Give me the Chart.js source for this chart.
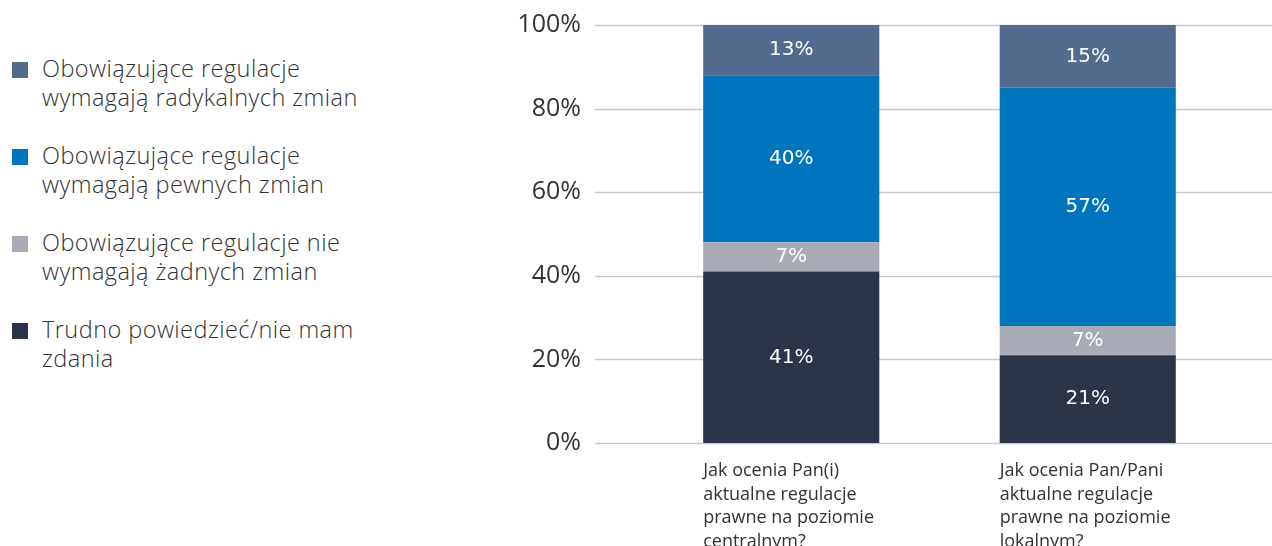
<!DOCTYPE html>
<html lang="pl">
<head>
<meta charset="utf-8">
<title>Ocena regulacji prawnych</title>
<script src="https://cdn.jsdelivr.net/npm/chart.js@4.4.1/dist/chart.umd.min.js"></script>
<style>
    html, body { margin: 0; padding: 0; background: #fff; }
    body { width: 1272px; height: 546px; position: relative; overflow: hidden; font-family: "Open Sans", sans-serif; }
    #legenda { position: absolute; left: 12px; top: 54px; width: 420px; }
    .pozycja { display: flex; align-items: flex-start; height: 87px; }
    .kwadrat { width: 16px; height: 16px; margin-top: 8px; margin-right: 14px; flex: none; }
    .opis { font-size: 23.5px; line-height: 29px; color: #333; font-weight: 300; letter-spacing: 0.45px; }
    #wykres { position: absolute; left: 500px; top: 0; width: 772px; height: 546px; }
</style>
</head>
<body>
<div id="legenda"></div>
<div id="wykres"><canvas id="chartRegulacje"></canvas></div>
<script>
// Pytania (kategorie na osi X)
const pytania = [
    ['Jak ocenia Pan(i)', 'aktualne regulacje', 'prawne na poziomie', 'centralnym?'],
    ['Jak ocenia Pan/Pani', 'aktualne regulacje', 'prawne na poziomie', 'lokalnym?']
];

// Odpowiedzi (kolejność od dołu słupka)
const odpowiedzi = [
    'Trudno powiedzieć/nie mam zdania',
    'Obowiązujące regulacje nie wymagają żadnych zmian',
    'Obowiązujące regulacje wymagają pewnych zmian',
    'Obowiązujące regulacje wymagają radykalnych zmian'
];

// Opisy w legendzie (z podziałem na linie)
const opisyLegendy = [
    ['Trudno powiedzieć/nie mam', 'zdania'],
    ['Obowiązujące regulacje nie', 'wymagają żadnych zmian'],
    ['Obowiązujące regulacje', 'wymagają pewnych zmian'],
    ['Obowiązujące regulacje', 'wymagają radykalnych zmian']
];

// Wartości procentowe
const trudnoPowiedziec = [41, 21];
const bezZmian = [7, 7];
const pewneZmiany = [40, 57];
const radykalneZmiany = [13, 15];

// Etykiety osi Y
const ticksY = [0, 20, 40, 60, 80, 100];

const kolory = ['#2c3447', '#a8abb6', '#0075be', '#526b8e'];

// Legenda w HTML (od góry: radykalne -> trudno powiedzieć)
function zbudujLegende() {
    const legenda = document.getElementById('legenda');
    for (let i = odpowiedzi.length - 1; i >= 0; i--) {
        const wiersz = document.createElement('div');
        wiersz.className = 'pozycja';
        const kw = document.createElement('span');
        kw.className = 'kwadrat';
        kw.style.background = kolory[i];
        const opis = document.createElement('span');
        opis.className = 'opis';
        opis.innerHTML = opisyLegendy[i].join('<br>');
        wiersz.appendChild(kw);
        wiersz.appendChild(opis);
        legenda.appendChild(wiersz);
    }
}

// Linie siatki szersze niż obszar słupków
const siatka = {
    id: 'siatka',
    beforeDatasetsDraw(chart) {
        const ctx = chart.ctx;
        const y = chart.scales.y;
        ctx.save();
        ctx.strokeStyle = '#c6c8d0';
        ctx.lineWidth = 1.5;
        ticksY.forEach(v => {
            const py = Math.round(y.getPixelForValue(v)) + 0.5;
            ctx.beginPath();
            ctx.moveTo(95, py);
            ctx.lineTo(chart.width, py);
            ctx.stroke();
        });
        ctx.restore();
    }
};

// Wartości wewnątrz słupków i opisy kategorii pod słupkami
const etykiety = {
    id: 'etykiety',
    afterDatasetsDraw(chart) {
        const ctx = chart.ctx;
        const area = chart.chartArea;
        ctx.save();
        ctx.font = '20px "DejaVu Sans", sans-serif';
        ctx.fillStyle = '#ffffff';
        ctx.textAlign = 'center';
        ctx.textBaseline = 'middle';
        chart.data.datasets.forEach((ds, i) => {
            chart.getDatasetMeta(i).data.forEach((bar, j) => {
                const top = Math.max(bar.y, area.top);
                const srodek = (top + bar.base) / 2;
                ctx.fillText(ds.data[j] + '%', bar.x, srodek);
            });
        });

        ctx.font = '18px "Open Sans", sans-serif';
        ctx.fillStyle = '#333333';
        ctx.textAlign = 'left';
        ctx.textBaseline = 'middle';
        chart.getDatasetMeta(0).data.forEach((bar, j) => {
            const lewo = bar.x - bar.width / 2;
            pytania[j].forEach((linia, k) => {
                ctx.fillText(linia, lewo, area.bottom + 28 + k * 23.5);
            });
        });
        ctx.restore();
    }
};

function criarWykres() {
    const ctx = document.getElementById('chartRegulacje').getContext('2d');
    const serie = [trudnoPowiedziec, bezZmian, pewneZmiany, radykalneZmiany];

    new Chart(ctx, {
        type: 'bar',
        data: {
            labels: pytania.map(p => p.join(' ')),
            datasets: serie.map((dane, i) => ({
                label: odpowiedzi[i],
                data: dane,
                backgroundColor: kolory[i],
                borderWidth: 0,
                categoryPercentage: 1,
                barPercentage: 0.594
            }))
        },
        options: {
            responsive: true,
            maintainAspectRatio: false,
            animation: false,
            layout: {
                padding: { top: 25, right: 36, bottom: 103, left: 0 }
            },
            plugins: {
                legend: { display: false },
                tooltip: { enabled: false }
            },
            scales: {
                x: {
                    stacked: true,
                    display: false
                },
                y: {
                    stacked: true,
                    min: 0,
                    max: 100,
                    grid: { display: false },
                    border: { display: false },
                    afterFit(scale) {
                        scale.width = 143;
                        scale.paddingTop = 12;
                        scale.paddingBottom = 12;
                    },
                    afterBuildTicks(scale) {
                        scale.ticks = ticksY.map(v => ({ value: v }));
                    },
                    ticks: {
                        padding: 54,
                        color: '#333333',
                        font: { family: '"Open Sans", sans-serif', size: 25 },
                        callback: v => v + '%'
                    }
                }
            }
        },
        plugins: [siatka, etykiety]
    });
}

zbudujLegende();
criarWykres();
</script>
</body>
</html>
